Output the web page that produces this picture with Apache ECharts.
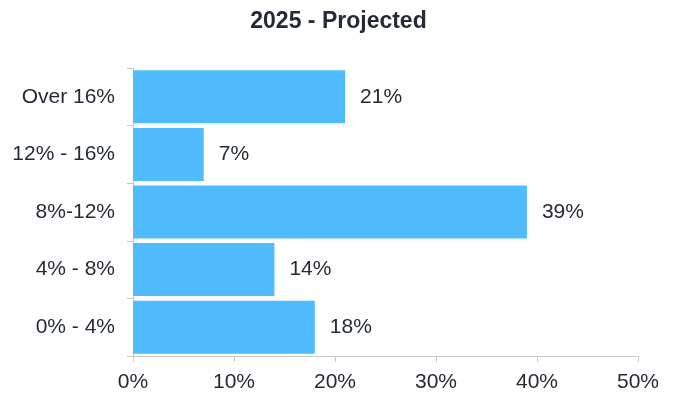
<!DOCTYPE html>
<html>
<head>
<meta charset="utf-8">
<script src="https://cdn.jsdelivr.net/npm/echarts@6/dist/echarts.min.js"></script>
<style>
  html, body { margin: 0; padding: 0; background: #fff; }
  #chart { width: 677px; height: 398px; }
</style>
</head>
<body>
<div id="chart"></div>
<script>
// Projected distribution for 2025, share of respondents per range
const categories = ['Over 16%', '12% - 16%', '8%-12%', '4% - 8%', '0% - 4%'];
const shares = [21, 7, 39, 14, 18];
const xTicks = { min: 0, max: 50, interval: 10 };

const axisColor = '#c8c8c8';
const textColor = '#252b35';
const font = '"Liberation Sans", Arial, sans-serif';

const chart = echarts.init(document.getElementById('chart'));
chart.setOption({
  animation: false,
  title: {
    text: '2025 - Projected',
    left: 'center',
    top: 5,
    textStyle: { fontFamily: font, fontSize: 23, fontWeight: 'bold', color: textColor }
  },
  grid: { left: 133, right: 39, top: 68, bottom: 42, containLabel: false },
  xAxis: {
    type: 'value',
    min: xTicks.min,
    max: xTicks.max,
    interval: xTicks.interval,
    axisLine: { show: true, lineStyle: { color: axisColor } },
    axisTick: { show: true, length: 6, lineStyle: { color: axisColor } },
    splitLine: { show: false },
    axisLabel: {
      formatter: '{value}%',
      fontFamily: font, fontSize: 21, color: textColor, margin: 16
    }
  },
  yAxis: {
    type: 'category',
    data: categories,
    inverse: true,
    axisLine: { show: true, lineStyle: { color: axisColor } },
    axisTick: { show: true, length: 6, lineStyle: { color: axisColor } },
    axisLabel: { fontFamily: font, fontSize: 21, color: textColor, margin: 18 }
  },
  series: [{
    type: 'bar',
    data: shares,
    barCategoryGap: '8%',
    itemStyle: { color: '#50bcfd' },
    label: {
      show: true,
      position: 'right',
      distance: 15,
      formatter: '{c}%',
      fontFamily: font,
      fontSize: 21,
      color: textColor
    }
  }]
});
</script>
</body>
</html>
